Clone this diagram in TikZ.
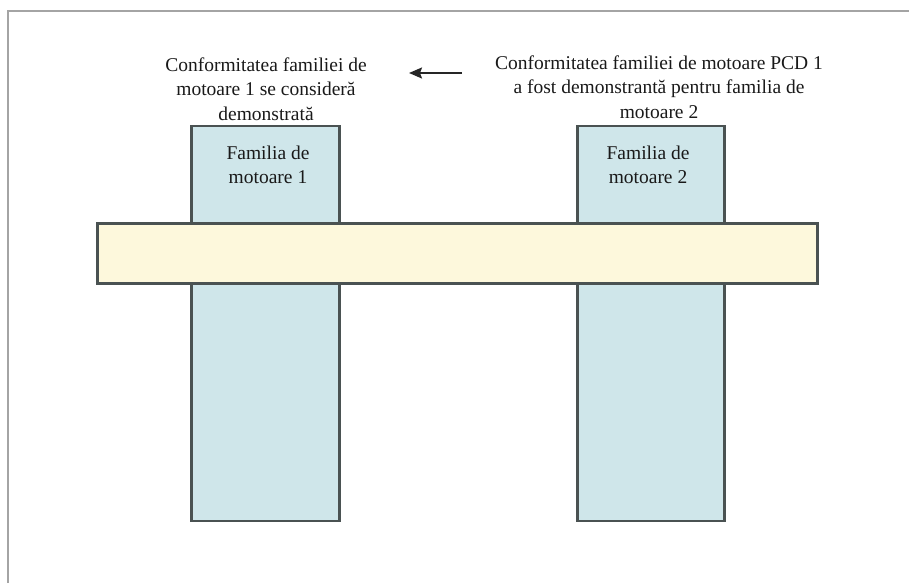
\documentclass[tikz,border=0pt]{standalone}
\usepackage{fontspec}
\setmainfont{Liberation Serif}
\usetikzlibrary{arrows.meta}
\definecolor{famblue}{HTML}{CFE6EA}
\definecolor{baryellow}{HTML}{FDF8DC}
\definecolor{edgegray}{HTML}{4A5252}
\definecolor{framegray}{HTML}{A4A4A4}
\tikzset{
  fambox/.style={draw=edgegray, fill=famblue, line width=2.2pt},
  barbox/.style={draw=edgegray, fill=baryellow, line width=2.2pt},
  lbl/.style={align=center, font=\fontsize{19.5}{24.5}\selectfont, inner sep=0pt, text=black!90},
}
\begin{document}
\begin{tikzpicture}[x=1pt,y=-1pt]
\useasboundingbox (0,0) rectangle (909,583);
% frame (top and left edges)
\draw[framegray, line width=2.4pt] (8,583) -- (8,11) -- (909,11);
% family boxes
\draw[fambox] (191.5,126) rectangle (339.5,521);
\draw[fambox] (577.5,126) rectangle (724.5,521);
% bar
\draw[barbox] (97.5,223.5) rectangle (817.5,283.5);
% labels
\node[lbl] (f1) at (268,165) {Familia de\\motoare 1};
\node[lbl] (f2) at (648,165) {Familia de\\motoare 2};
\node[lbl] (t1) at (266,89) {Conformitatea familiei de\\motoare 1 se consideră\\demonstrată};
\node[lbl] (t2) at (659,87) {Conformitatea familiei de motoare PCD 1\\a fost demonstrantă pentru familia de\\motoare 2};
% arrow
\coordinate (as) at (462,73);
\coordinate (ae) at (409,73);
\draw[-{Stealth[length=13pt,width=11pt,inset=2pt]}, line width=1.8pt, black!85] (as) -- (ae);
\end{tikzpicture}
\end{document}
